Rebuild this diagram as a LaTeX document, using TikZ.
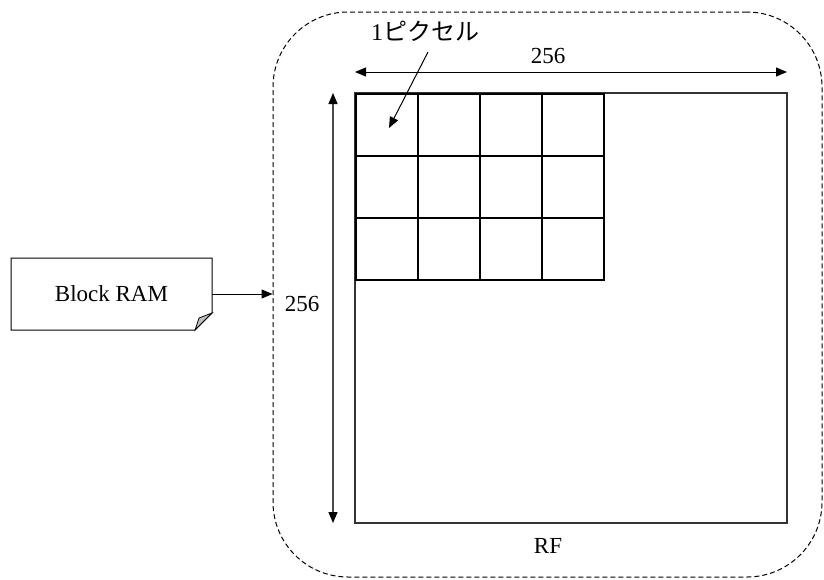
\documentclass[tikz,border=0pt]{standalone}
\usepackage{fontspec}
\setmainfont{Liberation Serif}
\newfontfamily\jp{Noto Sans CJK JP}
\usetikzlibrary{arrows.meta}
\begin{document}
\begin{tikzpicture}[x=1pt,y=-1pt,
  lbl/.style={font=\fontsize{23}{27}\selectfont, inner sep=0pt},
  arr/.style={-{Triangle[length=11pt,width=9pt,color=black]}, line width=1pt},
  darr/.style={{Triangle[length=11pt,width=9pt,color=black]}-{Triangle[length=11pt,width=9pt,color=black]}, line width=1pt},
  cell/.style={draw, line width=1.3pt, minimum width=62pt, minimum height=62pt, inner sep=0pt, outer sep=0pt},
  frm/.style={draw, line width=1pt, dash pattern=on 5pt off 3pt, rounded corners=75pt}]
\useasboundingbox (0,0) rectangle (824,579);
% dashed frame
\node[frm, minimum width=549pt, minimum height=565pt, inner sep=0pt] (frame) at (547.5,294.5) {};
% big square
\node[draw, draw=black!80, line width=1.3pt, minimum width=432pt, minimum height=430pt, inner sep=0pt] (rf) at (571,308) {};
% grid cells
\foreach \i in {0,...,3}{
  \foreach \j in {0,1,2}{
    \node[cell] (c-\i-\j) at ({387+62*\i},{125+62*\j}) {};
  }
}
% dimension arrows
\coordinate (hl) at (355,72);
\coordinate (hr) at (787,72);
\draw[darr] (hl) -- (hr);
\node[lbl] (wlab) at (548,56) {256};
\coordinate (vt) at (333,93);
\coordinate (vb) at (333,523);
\draw[darr, draw=black!70, line width=1.3pt] (vt) -- (vb);
\node[lbl] (hlab) at (302,304) {256};
% RF label
\node[lbl] (rflab) at (548,546) {RF};
% pixel label
\node[inner sep=0pt, font=\fontsize{24}{28}\selectfont] (pxl) at (425,31) {1\jp ピクセル};
\coordinate (pxs) at (428,52);
\coordinate (pxt) at (389,128);
\draw[arr] (pxs) -- (pxt);
% Block RAM
\node[lbl, minimum width=201pt, minimum height=72pt] (bram) at (111.5,294) {Block RAM};
\draw[line width=1pt] (11,258) -- (212,258) -- (212,313) -- (195,330) -- (11,330) -- cycle;
\draw[line width=0.8pt, fill=black!25] (212,313) -- (199,318) -- (195,330) -- cycle;
\draw[arr] (bram.east) -- (bram.east -| frame.west);
\end{tikzpicture}
\end{document}
